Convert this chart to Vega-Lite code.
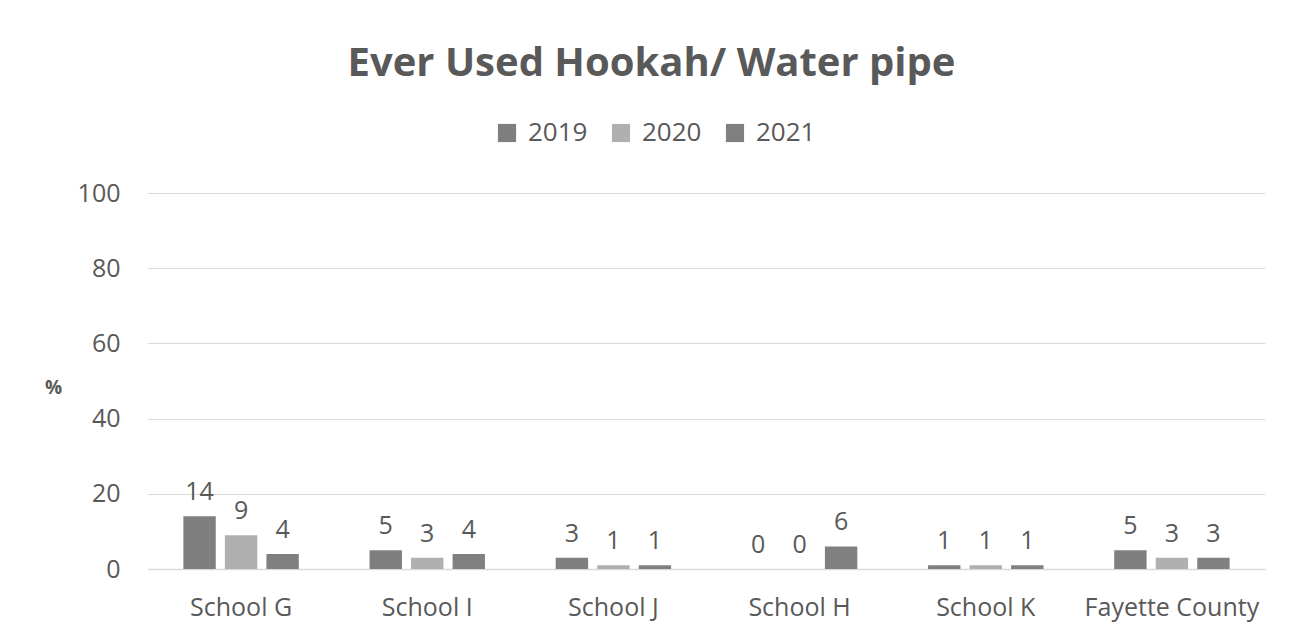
{
  "$schema": "https://vega.github.io/schema/vega-lite/v6.json",
  "width": 1117,
  "height": 376,
  "autosize": {"type": "none"},
  "padding": {"left": 148, "top": 193, "right": 35, "bottom": 68},
  "background": "white",
  "title": {
    "text": "Ever Used Hookah/ Water pipe",
    "fontSize": 40,
    "fontWeight": "bold",
    "font": "Open Sans",
    "color": "#595959",
    "anchor": "middle",
    "dx": -55,
    "offset": 36
  },
  "data": {
    "values": [
      {"school": "School G", "year": "2019", "value": 14},
      {"school": "School G", "year": "2020", "value": 9},
      {"school": "School G", "year": "2021", "value": 4},
      {"school": "School I", "year": "2019", "value": 5},
      {"school": "School I", "year": "2020", "value": 3},
      {"school": "School I", "year": "2021", "value": 4},
      {"school": "School J", "year": "2019", "value": 3},
      {"school": "School J", "year": "2020", "value": 1},
      {"school": "School J", "year": "2021", "value": 1},
      {"school": "School H", "year": "2019", "value": 0},
      {"school": "School H", "year": "2020", "value": 0},
      {"school": "School H", "year": "2021", "value": 6},
      {"school": "School K", "year": "2019", "value": 1},
      {"school": "School K", "year": "2020", "value": 1},
      {"school": "School K", "year": "2021", "value": 1},
      {"school": "Fayette County", "year": "2019", "value": 5},
      {"school": "Fayette County", "year": "2020", "value": 3},
      {"school": "Fayette County", "year": "2021", "value": 3}
    ]
  },
  "encoding": {
    "x": {
      "field": "school",
      "type": "nominal",
      "sort": null,
      "scale": {"paddingInner": 0.38, "paddingOuter": 0.19},
      "axis": {
        "title": null,
        "labelAngle": 0,
        "labelFontSize": 25,
        "labelFont": "Open Sans",
        "labelColor": "#595959",
        "labelPadding": 26,
        "ticks": false,
        "domainColor": "#d9d9d9",
        "domainWidth": 1.5
      }
    },
    "xOffset": {"field": "year", "type": "nominal", "scale": {"paddingInner": 0.22}},
    "y": {
      "field": "value",
      "type": "quantitative",
      "scale": {"domain": [0, 100]},
      "axis": {
        "title": "%",
        "titleAngle": 0,
        "titleFontSize": 19,
        "titleFont": "Open Sans",
        "titleFontWeight": "bold",
        "titleColor": "#595959",
        "titleX": -95,
        "titleY": 204,
        "values": [0, 20, 40, 60, 80, 100],
        "labelFontSize": 25,
        "labelFont": "Open Sans",
        "labelColor": "#595959",
        "labelPadding": 28,
        "ticks": false,
        "domain": false,
        "gridColor": "#d9d9d9",
        "gridWidth": 1
      }
    }
  },
  "layer": [
    {
      "mark": {"type": "bar"},
      "encoding": {
        "color": {
          "field": "year",
          "type": "nominal",
          "scale": {"domain": ["2019", "2020", "2021"], "range": ["#7f7f7f", "#b0b0b0", "#808080"]},
          "legend": {
            "title": null,
            "orient": "none",
            "direction": "horizontal",
            "legendX": 346,
            "legendY": -73,
            "symbolType": "square",
            "symbolSize": 330,
            "symbolStrokeWidth": 0,
            "labelFontSize": 26,
            "labelFont": "Open Sans",
            "labelColor": "#595959",
            "columnPadding": 20,
            "labelOffset": 8
          }
        }
      }
    },
    {
      "mark": {"type": "text", "baseline": "alphabetic", "dy": -16, "fontSize": 25, "font": "Open Sans", "color": "#595959"},
      "encoding": {
        "text": {"field": "value", "type": "quantitative"}
      }
    }
  ],
  "config": {"view": {"stroke": null}}
}
